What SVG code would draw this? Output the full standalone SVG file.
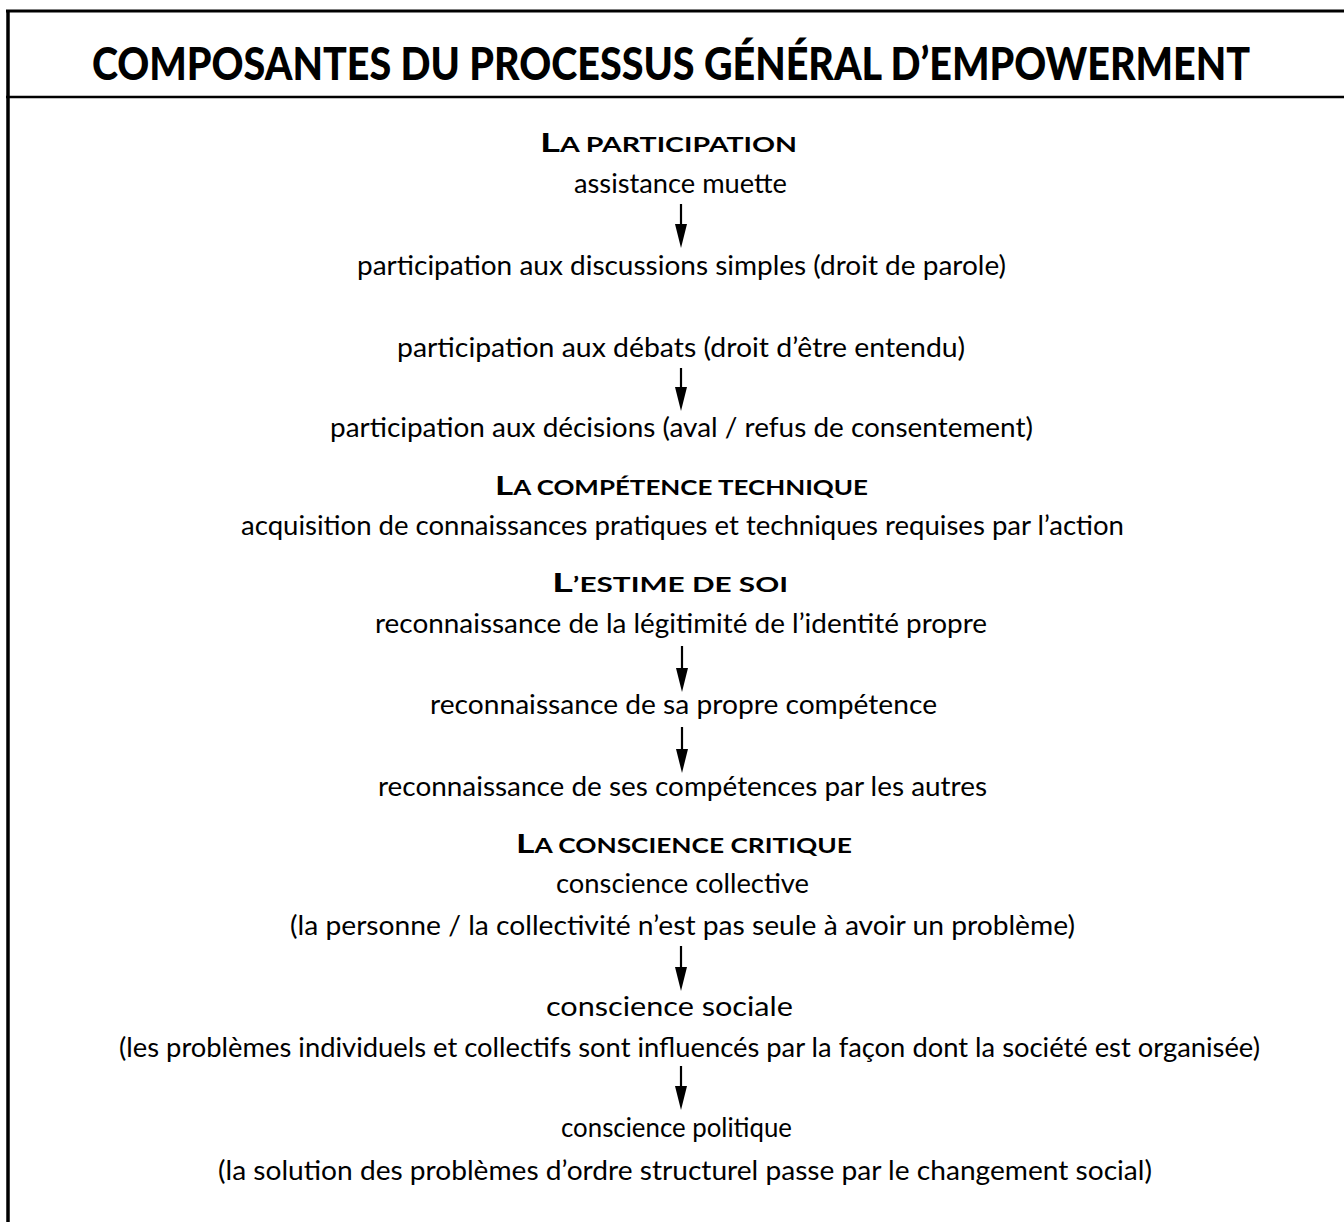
<svg xmlns="http://www.w3.org/2000/svg" width="1344" height="1222" viewBox="0 0 1344 1222">
<style>
.frame{stroke:#000;fill:none}
.title{font-family:Lato,"Open Sans","Liberation Sans",sans-serif;font-weight:900;font-size:45px;fill:#000;text-anchor:middle}
.head{font-family:Lato,"Open Sans","Liberation Sans",sans-serif;font-weight:bold;font-size:20px;fill:#000}
.cap{font-size:27px}
.body{font-family:Lato,"Open Sans","Liberation Sans",sans-serif;font-size:27px;fill:#000}
.arrow{stroke:#000;stroke-width:2.2;fill:none}
.head-tip{fill:#000;stroke:none}
</style>
<rect width="1344" height="1222" fill="#fff"/>
<g id="frame">
<line class="frame" x1="6" y1="11" x2="1344" y2="11" stroke-width="3"/>
<line class="frame" x1="8" y1="10" x2="8" y2="1222" stroke-width="3.5"/>
<line class="frame" x1="6" y1="97" x2="1344" y2="97" stroke-width="2.5"/>
</g>
<g id="title" transform="translate(671,0) scale(0.877,1)"><text class="title" x="0" y="80">COMPOSANTES DU PROCESSUS GÉNÉRAL D’EMPOWERMENT</text></g>

<g id="participation">
<text class="head" x="540" y="152" textLength="257" lengthAdjust="spacingAndGlyphs"><tspan class="cap">L</tspan>A PARTICIPATION</text>
</g>
<g id="n-assistance"><text class="body" x="574" y="193" textLength="213" lengthAdjust="spacingAndGlyphs">assistance muette</text></g>
<g id="n-discussions"><text class="body" x="357" y="275" textLength="649" lengthAdjust="spacingAndGlyphs">participation aux discussions simples (droit de parole)</text></g>
<g id="n-debats"><text class="body" x="397" y="357" textLength="568" lengthAdjust="spacingAndGlyphs">participation aux débats (droit d’être entendu)</text></g>
<g id="n-decisions"><text class="body" x="330" y="437" textLength="703" lengthAdjust="spacingAndGlyphs">participation aux décisions (aval / refus de consentement)</text></g>

<g id="competence">
<text class="head" x="495" y="495" textLength="373" lengthAdjust="spacingAndGlyphs"><tspan class="cap">L</tspan>A COMPÉTENCE TECHNIQUE</text>
</g>
<g id="n-acquisition"><text class="body" x="241" y="535" textLength="883" lengthAdjust="spacingAndGlyphs">acquisition de connaissances pratiques et techniques requises par l’action</text></g>

<g id="estime">
<text class="head" x="552" y="592" textLength="236" lengthAdjust="spacingAndGlyphs"><tspan class="cap">L</tspan>’ESTIME DE SOI</text>
</g>
<g id="n-legitimite"><text class="body" x="375" y="633" textLength="612" lengthAdjust="spacingAndGlyphs">reconnaissance de la légitimité de l’identité propre</text></g>
<g id="n-propre"><text class="body" x="430" y="714" textLength="507" lengthAdjust="spacingAndGlyphs">reconnaissance de sa propre compétence</text></g>
<g id="n-autres"><text class="body" x="378" y="796" textLength="609" lengthAdjust="spacingAndGlyphs">reconnaissance de ses compétences par les autres</text></g>

<g id="conscience">
<text class="head" x="516" y="853" textLength="336" lengthAdjust="spacingAndGlyphs"><tspan class="cap">L</tspan>A CONSCIENCE CRITIQUE</text>
</g>
<g id="n-collective">
<text class="body" x="556" y="893" textLength="253" lengthAdjust="spacingAndGlyphs">conscience collective</text>
<text class="body" x="290" y="935" textLength="785" lengthAdjust="spacingAndGlyphs">(la personne / la collectivité n’est pas seule à avoir un problème)</text>
</g>
<g id="n-sociale">
<text class="body" x="546" y="1016" textLength="247" lengthAdjust="spacingAndGlyphs">conscience sociale</text>
<text class="body" x="119" y="1057" textLength="1141" lengthAdjust="spacingAndGlyphs">(les problèmes individuels et collectifs sont influencés par la façon dont la société est organisée)</text>
</g>
<g id="n-politique">
<text class="body" x="561" y="1137" textLength="231" lengthAdjust="spacingAndGlyphs">conscience politique</text>
<text class="body" x="218" y="1180" textLength="934" lengthAdjust="spacingAndGlyphs">(la solution des problèmes d’ordre structurel passe par le changement social)</text>
</g>

<g id="connectors">
<line class="arrow" x1="681" y1="204" x2="681" y2="226"/>
<polygon class="head-tip" points="675,224 687,224 681,248"/>
<line class="arrow" x1="681" y1="368" x2="681" y2="389"/>
<polygon class="head-tip" points="675,387 687,387 681,411"/>
<line class="arrow" x1="682" y1="646" x2="682" y2="670"/>
<polygon class="head-tip" points="676,668 688,668 682,692"/>
<line class="arrow" x1="682" y1="727" x2="682" y2="751"/>
<polygon class="head-tip" points="676,749 688,749 682,773"/>
<line class="arrow" x1="681" y1="946" x2="681" y2="969"/>
<polygon class="head-tip" points="675,967 687,967 681,991"/>
<line class="arrow" x1="681" y1="1066" x2="681" y2="1088"/>
<polygon class="head-tip" points="675,1086 687,1086 681,1110"/>
</g>
</svg>
